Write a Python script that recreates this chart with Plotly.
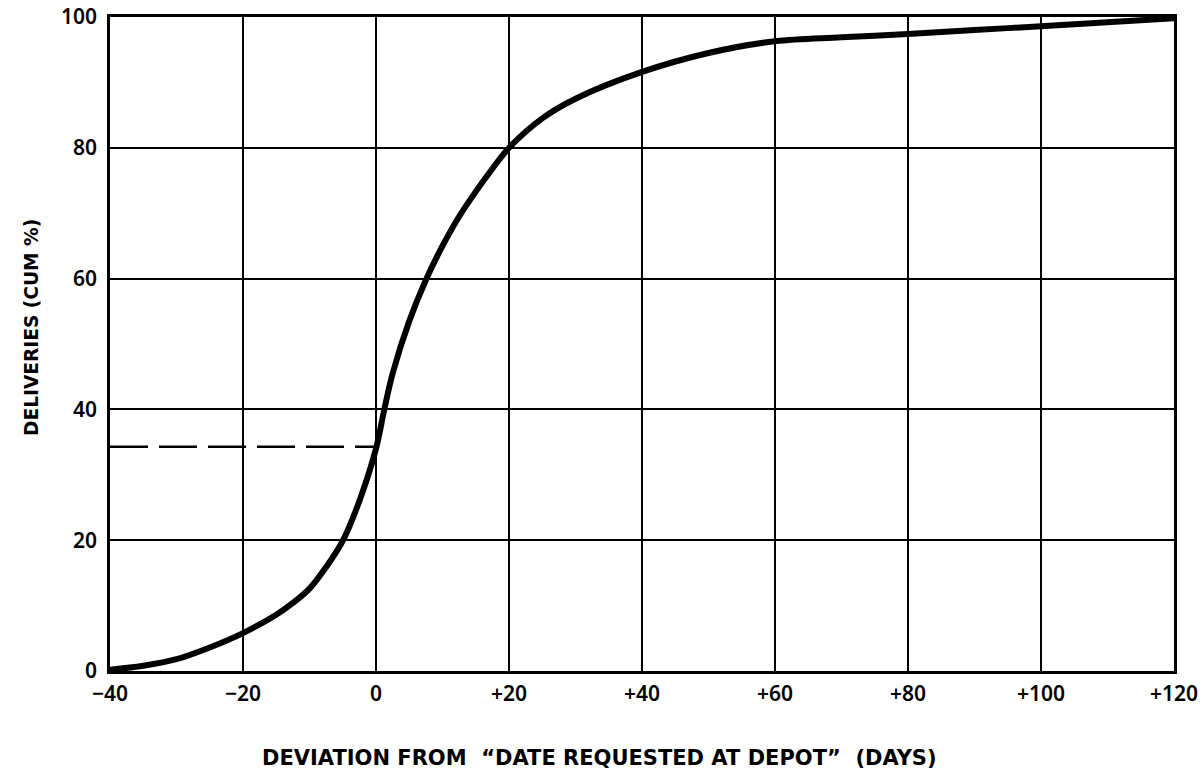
import plotly.graph_objects as go

# Cumulative deliveries curve
deviation_days = [-40, -35, -30, -25, -20, -15, -12.5, -10, -7.5, -5, -2.5, 0, 1.25, 2.5, 5, 7.5,
                  10, 12.5, 15, 17.5, 20, 25, 30, 40, 50, 60, 70, 80, 90, 100, 110, 120]
cum_pct = [0.2, 0.8, 1.8, 3.6, 5.8, 8.6, 10.4, 12.6, 15.9, 19.9, 26.0, 34.0, 40.0, 45.5, 53.5, 59.8,
           65.0, 69.5, 73.3, 76.8, 80.0, 84.5, 87.5, 91.6, 94.5, 96.3, 96.9, 97.4, 98.0, 98.6, 99.2, 99.8]

# Reference dashed level
ref_x = [-40, 0]
ref_y = [34.3, 34.3]

x_ticks = [-40, -20, 0, 20, 40, 60, 80, 100, 120]
x_tick_labels = ["\u221240", "\u221220", "0", "+20", "+40", "+60", "+80", "+100", "+120"]
y_ticks = [0, 20, 40, 60, 80, 100]
y_tick_labels = ["0", "20", "40", "60", "80", "100"]

TICK_FONT = dict(family="Noto Sans", size=21, color="black", weight=600)

fig = go.Figure()
fig.add_trace(go.Scatter(x=ref_x, y=ref_y, mode="lines",
                         line=dict(color="black", width=2.5, dash="38px,11px"),
                         hoverinfo="skip", showlegend=False))
fig.add_trace(go.Scatter(x=deviation_days, y=cum_pct, mode="lines",
                         line=dict(color="black", width=6, shape="spline", smoothing=1.0),
                         showlegend=False))

fig.update_xaxes(range=[-40, 120], tickvals=x_ticks, ticktext=x_tick_labels,
                 showgrid=True, gridcolor="black", gridwidth=2,
                 showline=True, linecolor="black", linewidth=2.5, mirror=True,
                 zeroline=False, ticks="outside", ticklen=2, tickcolor="rgba(0,0,0,0)",
                 automargin=False, ticklabeloverflow="allow", tickfont=TICK_FONT)
fig.update_yaxes(range=[0, 100], tickvals=y_ticks, ticktext=y_tick_labels,
                 showgrid=True, gridcolor="black", gridwidth=1.5,
                 showline=True, linecolor="black", linewidth=2.5, mirror=True,
                 zeroline=False, ticks="outside", ticklen=6, tickcolor="rgba(0,0,0,0)",
                 automargin=False, ticklabeloverflow="allow", tickfont=TICK_FONT)

fig.update_layout(
    width=1202, height=770,
    margin=dict(l=110, r=28, t=17, b=99),
    paper_bgcolor="white", plot_bgcolor="white",
    annotations=[
        dict(text="DEVIATION FROM  \u201cDATE REQUESTED AT DEPOT\u201d  (DAYS)",
             xref="paper", yref="paper", x=0.4596, y=-0.133, yanchor="middle",
             xanchor="center", showarrow=False,
             font=dict(family="DejaVu Sans", size=21, color="black", weight="bold")),
        dict(text="DELIVERIES (CUM %)", textangle=-90,
             xref="paper", yref="paper", x=-0.0733, y=0.5245, xanchor="center",
             yanchor="middle", showarrow=False,
             font=dict(family="DejaVu Sans", size=18.6, color="black", weight="bold")),
    ],
)

fig.write_html("out.html", config={"displayModeBar": False},
               post_script="document.body.style.margin='0';document.body.style.overflow='hidden';")
